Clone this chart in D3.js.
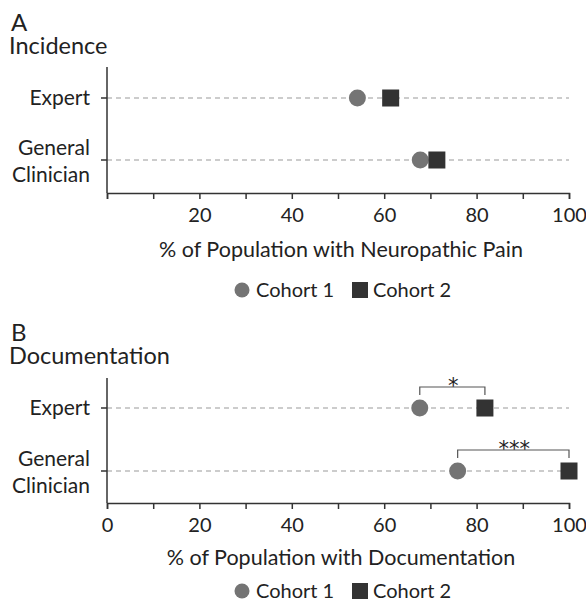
<!DOCTYPE html>
<html>
<head>
<meta charset="utf-8">
<script src="https://cdn.jsdelivr.net/npm/d3@7"></script>
<style>
  body { margin: 0; background: #fff; }
  text { font-family: Lato, "Open Sans", sans-serif; fill: #222; }
</style>
</head>
<body>
<div id="chart"></div>
<script>
// data
var groups = ["Expert", "General Clinician"];
var incidenceCohort1 = [54.2, 67.8];
var incidenceCohort2 = [61.4, 71.4];
var docCohort1 = [67.7, 75.9];
var docCohort2 = [81.8, 100];
var docStars = ["*", "***"];
var tickValues = [0, 10, 20, 30, 40, 50, 60, 70, 80, 90, 100];

var width = 586, height = 603;
var svg = d3.select("#chart").append("svg")
  .attr("width", width)
  .attr("height", height);

var x = d3.scaleLinear().domain([0, 100]).range([107, 569]);

function panel(opt) {
  var g = svg.append("g");
  var y = d3.scalePoint().domain(groups).range([opt.rowTop, opt.rowBot]);

  g.append("text").attr("x", 11).attr("y", opt.top)
    .style("font-size", "24px").text(opt.letter);
  g.append("text").attr("x", 9).attr("y", opt.top + 23)
    .style("font-size", "23.5px").text(opt.title);

  // dashed reference lines
  groups.forEach(function(d) {
    g.append("line")
      .attr("x1", x(0)).attr("x2", x(100))
      .attr("y1", y(d)).attr("y2", y(d))
      .attr("stroke", "#999").attr("stroke-width", 1)
      .attr("stroke-dasharray", "5,4");
  });

  // y axis
  g.append("line").attr("x1", x(0)).attr("x2", x(0))
    .attr("y1", opt.axisTop).attr("y2", opt.axisY)
    .attr("stroke", "#333").attr("stroke-width", 1.5);
  groups.forEach(function(d) {
    g.append("line").attr("x1", x(0) - 6).attr("x2", x(0))
      .attr("y1", y(d)).attr("y2", y(d))
      .attr("stroke", "#333").attr("stroke-width", 1.5);
  });
  g.append("text").attr("x", 90).attr("y", y("Expert") + 7)
    .attr("text-anchor", "end").style("font-size", "21px").text("Expert");
  g.append("text").attr("x", 90).attr("y", y("General Clinician") - 5)
    .attr("text-anchor", "end").style("font-size", "21px").text("General");
  g.append("text").attr("x", 90).attr("y", y("General Clinician") + 22)
    .attr("text-anchor", "end").style("font-size", "21px").text("Clinician");

  // x axis
  var ax = g.append("g")
    .attr("transform", "translate(0," + opt.axisY + ")")
    .call(d3.axisBottom(x).tickValues(tickValues).tickSizeOuter(0).tickSize(6)
      .tickFormat(function(d) {
        if (d % 20 !== 0) return "";
        if (d === 0 && !opt.showZero) return "";
        return d;
      }));
  ax.select(".domain").attr("stroke", "#333").attr("stroke-width", 1.5);
  ax.selectAll(".tick line").attr("stroke", "#333").attr("stroke-width", 1.5);
  ax.selectAll(".tick text").attr("dy", "0").attr("y", 29)
    .style("font-size", "20px").style("font-family", "Lato, sans-serif").attr("fill", "#222");

  g.append("text").attr("x", 341).attr("y", opt.axisY + opt.titleOff)
    .attr("text-anchor", "middle").style("font-size", "21.5px").text(opt.xTitle);

  // marks
  groups.forEach(function(d, i) {
    g.append("circle").attr("cx", x(opt.c1[i])).attr("cy", y(d)).attr("r", 8.5)
      .attr("fill", "#747474");
    g.append("rect").attr("x", x(opt.c2[i]) - 8.5).attr("y", y(d) - 8.5)
      .attr("width", 17).attr("height", 17).attr("fill", "#333");
  });

  // significance brackets
  if (opt.stars) {
    groups.forEach(function(d, i) {
      var x1 = x(opt.c1[i]), x2 = x(opt.c2[i]), yb = y(d) - 21;
      g.append("path")
        .attr("d", "M" + x1 + "," + (yb + 8) + "V" + yb + "H" + x2 + "V" + (yb + 8))
        .attr("fill", "none").attr("stroke", "#555").attr("stroke-width", 1.2);
      g.append("text").attr("x", (x1 + x2) / 2 + 1).attr("y", yb + 6)
        .attr("text-anchor", "middle")
        .style("font-family", "DejaVu Sans, sans-serif").style("font-size", "21px")
        .style("letter-spacing", "0px").attr("fill", "#444").text(opt.stars[i]);
    });
  }

  // legend
  var ly = opt.axisY + opt.legendOff;
  g.append("circle").attr("cx", 242).attr("cy", ly).attr("r", 7.5).attr("fill", "#747474");
  g.append("text").attr("x", 256).attr("y", ly + 7).style("font-size", "20px").text("Cohort 1");
  g.append("rect").attr("x", 352).attr("y", ly - 8).attr("width", 16).attr("height", 16).attr("fill", "#333");
  g.append("text").attr("x", 373).attr("y", ly + 7).style("font-size", "20px").text("Cohort 2");
}

panel({
  letter: "A", title: "Incidence", top: 31,
  axisTop: 67, rowTop: 98, rowBot: 160, axisY: 193,
  titleOff: 64, legendOff: 97,
  showZero: false, xTitle: "% of Population with Neuropathic Pain",
  c1: incidenceCohort1, c2: incidenceCohort2
});

panel({
  letter: "B", title: "Documentation", top: 341,
  axisTop: 378, rowTop: 408, rowBot: 471, axisY: 503,
  titleOff: 62, legendOff: 88,
  showZero: true, xTitle: "% of Population with Documentation",
  c1: docCohort1, c2: docCohort2, stars: docStars
});
</script>
</body>
</html>
